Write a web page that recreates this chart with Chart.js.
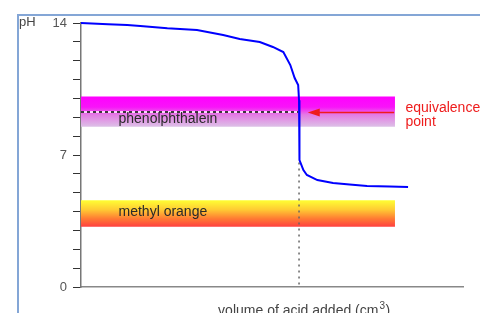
<!DOCTYPE html>
<html>
<head>
<meta charset="utf-8">
<script src="https://cdn.jsdelivr.net/npm/chart.js@4"></script>
<style>
  body { margin: 0; background: #fff; overflow: hidden; }
  #wrap { width: 480px; height: 313px; position: relative; }
</style>
</head>
<body>
<div id="wrap"><canvas id="myChart"></canvas></div>
<script>
// titration curve : volume of acid added -> pH
const volumes = [0, 3.1, 5.3, 6.8, 9.9, 13.3, 16.3, 18.2, 20.5, 22.0, 23.2, 24.0, 24.5, 24.9, 25.0, 25.0,
                 25.1, 25.5, 25.9, 27.1, 28.9, 30.8, 32.8, 35.4, 37.5];
const phValues = [14.0, 13.94, 13.89, 13.84, 13.72, 13.63, 13.36, 13.15, 12.99, 12.73, 12.46, 11.77, 11.08, 10.71, 9.9, 7.0,
                  6.73, 6.2, 5.94, 5.67, 5.51, 5.43, 5.36, 5.33, 5.30];

// indicator ranges [low, high] and band end
const phenolRange = [8.5, 10.1];
const methylRange = [3.2, 4.6];
const bandEnd = 36;

// equivalence point
const eqVolume = 25.0;
const eqPH = 9.28;

const yTicks = [0, 7, 14];
const xMax = 43.8;

function curvePoints() {
    return volumes.map((v, i) => ({ x: v, y: phValues[i] }));
}

function bandGradient(chart, range, stops) {
    const area = chart.chartArea;
    if (!area) return null;
    const y = chart.scales.y;
    const g = chart.ctx.createLinearGradient(0, y.getPixelForValue(range[1]), 0, y.getPixelForValue(range[0]));
    stops.forEach(s => g.addColorStop(s[0], s[1]));
    return g;
}

const labelsPlugin = {
    id: 'labels',
    beforeDraw(chart) {
        const ctx = chart.ctx;
        ctx.save();
        // cadre bleu
        ctx.fillStyle = '#84a6d6';
        ctx.fillRect(17, 14, 2, 320);
        ctx.fillRect(17, 14, 480, 2);
        ctx.restore();
    },
    afterDatasetsDraw(chart) {
        const ctx = chart.ctx;
        const x = chart.scales.x, y = chart.scales.y;
        ctx.save();
        ctx.font = '14px "Liberation Sans", Arial, sans-serif';
        ctx.textBaseline = 'middle';
        ctx.textAlign = 'left';
        ctx.fillStyle = '#2a2a2a';
        ctx.fillText('phenolphthalein', x.getPixelForValue(4.3), y.getPixelForValue(8.88));
        ctx.fillText('methyl orange', x.getPixelForValue(4.3), y.getPixelForValue(3.98));

        // equivalence point arrow
        const ay = Math.round(y.getPixelForValue(eqPH)) + 0.5;
        const ax0 = x.getPixelForValue(26.0);
        const ax1 = x.getPixelForValue(35.9);
        ctx.strokeStyle = '#ee1c1c';
        ctx.fillStyle = '#ee1c1c';
        ctx.lineWidth = 1.5;
        ctx.beginPath();
        ctx.moveTo(ax0 + 8, ay);
        ctx.lineTo(ax1, ay);
        ctx.stroke();
        ctx.beginPath();
        ctx.moveTo(ax0, ay);
        ctx.lineTo(ax0 + 12, ay - 4);
        ctx.lineTo(ax0 + 12, ay + 4);
        ctx.closePath();
        ctx.fill();

        ctx.font = '14px "Liberation Sans", Arial, sans-serif';
        ctx.fillText('equivalence', x.getPixelForValue(37.2), y.getPixelForValue(9.49));
        ctx.fillText('point', x.getPixelForValue(37.2), y.getPixelForValue(8.75));

        // titre des axes
        ctx.fillStyle = '#444';
        ctx.font = '13px "Liberation Sans", Arial, sans-serif';
        ctx.fillText('pH', 19, 22);
        ctx.font = '14px "Liberation Sans", Arial, sans-serif';
        ctx.textAlign = 'center';
        ctx.textBaseline = 'alphabetic';
        const tx = x.getPixelForValue(25.6);
        const ty = chart.chartArea.bottom + 28;
        ctx.fillText('volume of acid added (cm', tx - 6, ty);
        const w = ctx.measureText('volume of acid added (cm').width;
        ctx.font = '10px "Liberation Sans", Arial, sans-serif';
        ctx.textAlign = 'left';
        ctx.fillText('3', tx - 6 + w / 2 + 1, ty - 6);
        ctx.font = '14px "Liberation Sans", Arial, sans-serif';
        ctx.fillText(')', tx - 6 + w / 2 + 7, ty);
        ctx.restore();
    }
};

const ctx = document.getElementById('myChart');

const myChart = new Chart(ctx, {
    type: 'line',
    data: {
        datasets: [
            {
                // courbe de titrage
                data: curvePoints(),
                borderColor: '#0000ff',
                borderWidth: 2,
                tension: 0,
                pointRadius: 0,
                clip: false,
                order: 0
            },
            {
                // ligne horizontale pointillée
                data: [{ x: 0, y: eqPH }, { x: eqVolume - 0.05, y: eqPH }],
                borderColor: '#000',
                borderWidth: 1.5,
                borderDash: [3, 3],
                pointRadius: 0,
                order: 1
            },
            {
                data: [{ x: 0, y: eqPH }, { x: eqVolume - 0.05, y: eqPH }],
                borderColor: '#fff',
                borderWidth: 1.5,
                pointRadius: 0,
                order: 2
            },
            {
                // ligne verticale pointillée
                data: [{ x: eqVolume, y: 6.6 }, { x: eqVolume, y: 0 }],
                borderColor: '#666',
                borderWidth: 1.5,
                borderDash: [2, 4],
                pointRadius: 0,
                order: 3
            },
            {
                // phenolphthalein
                data: [{ x: 0, y: phenolRange[1] }, { x: bandEnd, y: phenolRange[1] }],
                borderWidth: 0,
                pointRadius: 0,
                fill: { value: phenolRange[0] },
                backgroundColor: c => bandGradient(c.chart, phenolRange,
                    [[0, '#ff00ff'], [0.35, '#f814f8'], [0.6, '#e47ae4'], [1, '#dcc0e6']]),
                order: 4
            },
            {
                // methyl orange
                data: [{ x: 0, y: methylRange[1] }, { x: bandEnd, y: methylRange[1] }],
                borderWidth: 0,
                pointRadius: 0,
                fill: { value: methylRange[0] },
                backgroundColor: c => bandGradient(c.chart, methylRange,
                    [[0, '#ffff33'], [0.35, '#ffcc33'], [0.7, '#ff7a33'], [1, '#ff4040']]),
                order: 5
            }
        ]
    },
    options: {
        animation: false,
        responsive: true,
        maintainAspectRatio: false,
        layout: { padding: { top: 23, right: 17, left: 0, bottom: 0 } },
        plugins: {
            legend: { display: false },
            tooltip: { enabled: false }
        },
        scales: {
            x: {
                type: 'linear',
                min: 0,
                max: xMax,
                ticks: { display: false },
                grid: { display: false },
                border: { color: '#888', width: 1.5 },
                afterFit: s => { s.height = 26; }
            },
            y: {
                min: 0,
                max: 14,
                ticks: {
                    stepSize: 1,
                    autoSkip: false,
                    padding: 6,
                    color: '#555',
                    font: { size: 13 },
                    callback: v => (yTicks.includes(v) ? v : '')
                },
                grid: { display: true, drawOnChartArea: false, drawTicks: true, tickLength: 8, color: '#333' },
                border: { color: '#777', width: 1.5 },
                afterFit: s => { s.width = 81; }
            }
        }
    },
    plugins: [labelsPlugin]
});
</script>
</body>
</html>
